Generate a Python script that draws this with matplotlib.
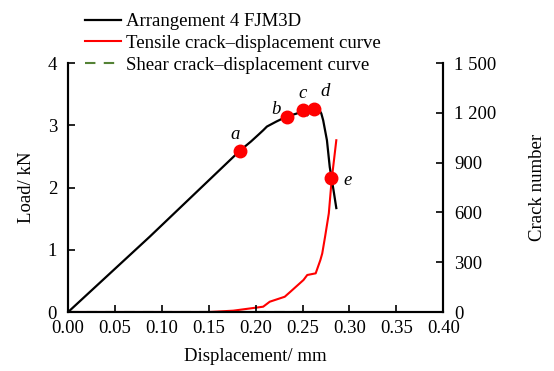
import matplotlib
matplotlib.use('Agg')
import matplotlib.pyplot as plt
from matplotlib.ticker import FuncFormatter

plt.rcParams['font.family'] = ['Liberation Serif', 'DejaVu Serif']

# load-displacement curve (kN vs mm)
load_x = [0.0, 0.087, 0.183, 0.195, 0.203, 0.208, 0.212, 0.222, 0.233, 0.244, 0.250,
          0.255, 0.258, 0.262, 0.267, 0.270, 0.272, 0.276, 0.279, 0.283, 0.286]
load_y = [0.0, 1.21, 2.59, 2.74, 2.85, 2.92, 2.98, 3.06, 3.14, 3.19, 3.245,
          3.16, 3.22, 3.27, 3.27, 3.19, 3.08, 2.76, 2.33, 1.96, 1.67]

# tensile crack number vs displacement
tens_x = [0.0, 0.150, 0.176, 0.208, 0.215, 0.231, 0.237, 0.251, 0.255, 0.264,
          0.269, 0.271, 0.274, 0.278, 0.281, 0.286]
tens_y = [0, 0, 8, 32, 62, 92, 122, 193, 223, 233,
          313, 353, 453, 594, 794, 1035]

# shear crack number vs displacement
shear_x = [0.0, 0.266]
shear_y = [0, 0]

# key points a-e
pt_names = ['a', 'b', 'c', 'd', 'e']
pt_x = [0.183, 0.233, 0.250, 0.262, 0.280]
pt_y = [2.59, 3.14, 3.245, 3.27, 2.16]
pt_off = [(-3, 12), (-8, 5), (0, 12), (8, 12), (12, -2)]

fs = 13.5

fig = plt.figure(figsize=(5.54, 3.71), dpi=100)
ax = fig.add_axes([0.123, 0.159, 0.677, 0.671])
ax2 = ax.twinx()

l1, = ax.plot(load_x, load_y, color='black', lw=1.6, label='Arrangement 4 FJM3D', zorder=3)
l2, = ax2.plot(tens_x, tens_y, color='#ff0000', lw=1.5, label='Tensile crack\u2013displacement curve')
l3, = ax2.plot(shear_x, shear_y, color='#548235', lw=1.5, ls=(0, (5, 4)),
               label='Shear crack\u2013displacement curve')

ax.plot(pt_x, pt_y, 'o', color='#ff0000', ms=9, zorder=5)
for n, x, y, off in zip(pt_names, pt_x, pt_y, pt_off):
    ax.annotate(n, (x, y), xytext=off, textcoords='offset points', fontsize=fs,
                style='italic', ha='center', va='center')

ax.set_zorder(ax2.get_zorder() + 1)
ax.patch.set_visible(False)

ax.set_xlim(0, 0.40)
ax.set_ylim(0, 4)
ax2.set_ylim(0, 1500)
ax.set_xticks([0.0, 0.05, 0.10, 0.15, 0.20, 0.25, 0.30, 0.35, 0.40])
ax.xaxis.set_major_formatter(FuncFormatter(lambda v, p: '%.2f' % v))
ax.set_yticks([0, 1, 2, 3, 4])
ax2.set_yticks([0, 300, 600, 900, 1200, 1500])
ax2.yaxis.set_major_formatter(FuncFormatter(lambda v, p: '{:,}'.format(int(v)).replace(',', ' ')))

for a in (ax, ax2):
    a.spines['top'].set_visible(False)
    for s in a.spines.values():
        s.set_linewidth(1.5)
    a.tick_params(direction='in', labelsize=fs, width=1.2, length=5)
ax.tick_params(axis='y', pad=8)
ax.tick_params(axis='x', pad=6)
ax2.tick_params(axis='y', pad=8)

ax.set_xlabel('Displacement/ mm', fontsize=fs, labelpad=8)
ax.set_ylabel('Load/ kN', fontsize=fs, labelpad=9)
ax2.set_ylabel('Crack number', fontsize=fs, labelpad=23)

fig.legend(handles=[l1, l2, l3], loc='upper left', bbox_to_anchor=(0.133, 0.995),
           frameon=False, fontsize=fs, handlelength=1.9, handletextpad=0.3,
           labelspacing=0.25, borderaxespad=0.2)

fig.savefig('out.png', dpi=100)
